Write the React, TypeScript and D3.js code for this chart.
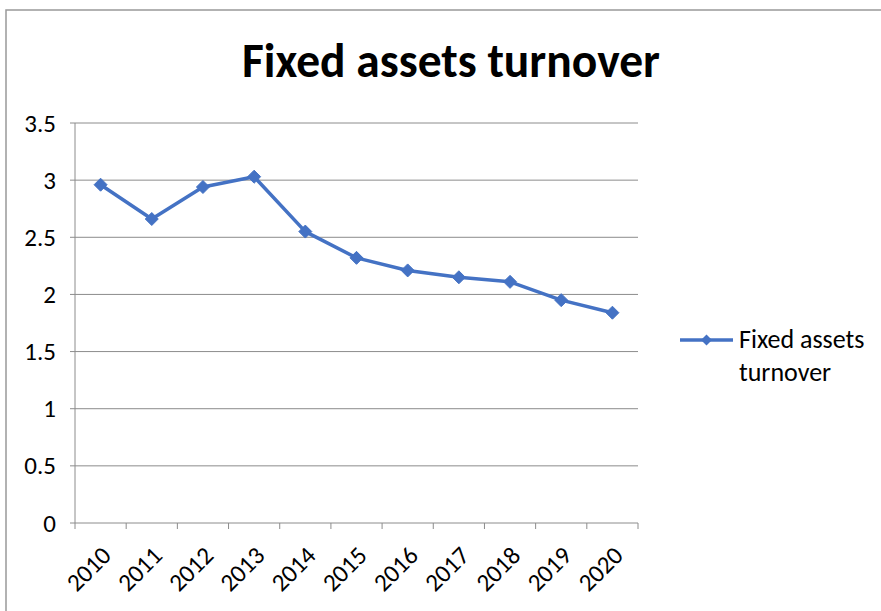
import React from "react";
import * as d3 from "d3";

const years = ["2010", "2011", "2012", "2013", "2014", "2015", "2016", "2017", "2018", "2019", "2020"];
const turnover = [2.96, 2.66, 2.94, 3.03, 2.55, 2.32, 2.21, 2.15, 2.11, 1.95, 1.84];
const yTicks = [0, 0.5, 1, 1.5, 2, 2.5, 3, 3.5];
const title = "Fixed assets turnover";
const seriesName = ["Fixed assets", "turnover"];

const W = 881, H = 611;
const L = 75, R = 638, T = 123, B = 523;
const FONT = "Carlito, Calibri, 'Open Sans', 'Liberation Sans', sans-serif";
const BLUE = "#4472C4";
const GRID = "#8c8c8c";

export default function App() {
  const x = d3.scaleBand<string>().domain(years).range([L, R]);
  const y = d3.scaleLinear().domain([0, 3.5]).range([B, T]);
  const line = d3.line<number>()
    .x((_, i) => (x(years[i]) as number) + x.bandwidth() / 2)
    .y((d) => y(d));
  const diamond = (cx: number, cy: number, r: number) =>
    `M${cx},${cy - r}L${cx + r},${cy}L${cx},${cy + r}L${cx - r},${cy}Z`;
  const boundaries = years.map((yr) => x(yr) as number).concat([R]);

  return (
    <svg width={W} height={H} style={{ position: "absolute", left: 0, top: 0, background: "#fff" }}>
      <rect x={6} y={10} width={900} height={620} fill="#fff" stroke="#999" strokeWidth={1.5} />
      <text x={451} y={77} textAnchor="middle" fontFamily={FONT} fontWeight="bold" fontSize={47.5} fill="#000">{title}</text>
      {yTicks.map((t) => (
        <g key={t}>
          {t > 0 && <line x1={L} x2={R} y1={y(t)} y2={y(t)} stroke={GRID} strokeWidth={1} />}
          <line x1={L - 5} x2={L} y1={y(t)} y2={y(t)} stroke={GRID} strokeWidth={1} />
          <text x={56} y={y(t) + 8.5} textAnchor="end" fontFamily={FONT} fontSize={25} fill="#000">{t}</text>
        </g>
      ))}
      <line x1={L} x2={L} y1={T} y2={B} stroke={GRID} strokeWidth={1} />
      <line x1={L} x2={R} y1={B} y2={B} stroke={GRID} strokeWidth={1} />
      {boundaries.map((bx, i) => (
        <line key={i} x1={bx} x2={bx} y1={B} y2={B + 6} stroke={GRID} strokeWidth={1} />
      ))}
      {years.map((yr) => {
        const cx = (x(yr) as number) + x.bandwidth() / 2;
        const ax = cx + 12;
        const ay = B + 34;
        return (
          <text key={yr} x={ax} y={ay} textAnchor="end" fontFamily={FONT} fontSize={25}
            transform={`rotate(-45 ${ax} ${ay})`} fill="#000">{yr}</text>
        );
      })}
      <path d={line(turnover) || ""} fill="none" stroke={BLUE} strokeWidth={3.5} strokeLinejoin="round" />
      {turnover.map((v, i) => (
        <path key={i} d={diamond((x(years[i]) as number) + x.bandwidth() / 2, y(v), 6.5)} fill={BLUE} stroke={BLUE} />
      ))}
      <line x1={680} x2={733} y1={340} y2={340} stroke={BLUE} strokeWidth={3.5} />
      <path d={diamond(706.5, 340, 5.5)} fill={BLUE} />
      <text x={739} y={348} fontFamily={FONT} fontSize={26} fill="#000">{seriesName[0]}</text>
      <text x={739} y={381} fontFamily={FONT} fontSize={26} fill="#000">{seriesName[1]}</text>
    </svg>
  );
}
